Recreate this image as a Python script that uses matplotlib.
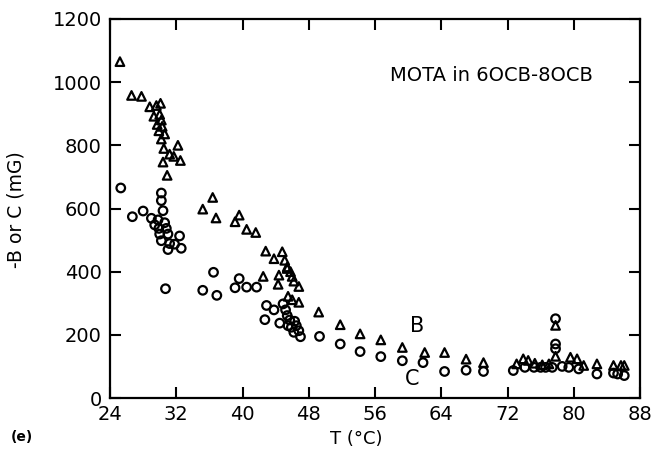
import matplotlib
matplotlib.use("Agg")
import matplotlib.pyplot as plt
import numpy as np

# -B (triangles)
b_temp = [25.2, 26.6, 27.8, 28.8, 29.6, 30.1, 29.3, 30.0, 30.2, 29.7, 30.3, 29.9,
          30.6, 30.2, 30.5, 32.2, 31.2, 31.7, 30.4, 32.5, 30.9, 35.2, 36.4, 36.8,
          39.6, 39.1, 40.5, 41.6, 42.8, 43.8, 44.8, 45.1, 45.4, 42.5, 44.4, 44.3,
          45.4, 45.8, 46.0, 46.2, 46.8, 45.5, 46.0, 46.8, 49.2, 51.8, 54.2, 56.7,
          59.3, 62.0, 64.4, 67.0, 69.1, 73.1, 73.9, 74.5, 75.3, 76.2, 77.0,
          77.8, 77.8, 79.6, 80.4, 81.2, 82.8, 84.8, 85.7, 86.1]
b_val = [1065, 958, 955, 922, 926, 933, 892, 898, 880, 866, 860, 846,
         836, 820, 790, 800, 772, 765, 747, 752, 705, 598, 635, 570,
         579, 558, 534, 524, 465, 441, 463, 436, 415, 385, 389, 360,
         410, 400, 385, 370, 353, 322, 311, 303, 272, 232, 203, 184,
         160, 144, 144, 123, 112, 108, 124, 119, 110, 105, 108,
         230, 132, 129, 124, 103, 108, 103, 103, 103]

# C (circles)
c_temp = [25.3, 26.7, 28.0, 29.0, 30.2, 30.2, 30.4, 29.8, 29.4, 30.6, 29.9, 30.8,
          30.0, 31.0, 30.2, 31.2, 31.8, 32.4, 32.6, 31.0, 30.7, 35.2, 36.5, 36.9,
          39.6, 39.1, 40.5, 41.7, 42.9, 43.8, 44.9, 45.2, 45.4, 42.7, 44.5, 45.7,
          46.3, 45.9, 46.5, 46.8, 47.0, 45.5, 46.2, 49.3, 51.8, 54.2, 56.7, 59.3,
          61.8, 64.4, 67.0, 69.1, 72.7, 74.1, 75.2, 76.0, 76.6, 77.4, 77.8, 77.8,
          77.8, 78.6, 79.4, 80.6, 82.8, 84.8, 85.3, 86.1]
c_val = [665, 574, 592, 569, 649, 625, 593, 564, 548, 555, 537, 537,
         519, 519, 498, 489, 487, 513, 474, 470, 346, 341, 398, 325,
         378, 349, 351, 351, 293, 279, 298, 279, 261, 248, 237, 247,
         243, 224, 229, 213, 194, 229, 208, 195, 171, 147, 131, 118,
         112, 84, 88, 84, 87, 97, 97, 97, 97, 97, 251, 171,
         156, 100, 97, 92, 76, 79, 76, 71]

xticks = [24, 32, 40, 48, 56, 64, 72, 80, 88]
yticks = [0, 200, 400, 600, 800, 1000, 1200]

plt.rcParams['font.family'] = ['DejaVu Sans']

fig = plt.figure(figsize=(6.53, 4.55), dpi=100)
ax = fig.add_axes([110 / 653, 1 - 398 / 455, 530 / 653, 379 / 455])

ax.scatter(b_temp, b_val, marker='^', s=38, facecolors='none',
           edgecolors='black', linewidths=1.6, zorder=3)
ax.scatter(c_temp, c_val, marker='o', s=38, facecolors='none',
           edgecolors='black', linewidths=1.6, zorder=3)

ax.set_xlim(24, 88)
ax.set_ylim(0, 1200)
ax.set_xticks(xticks)
ax.set_yticks(yticks)
ax.tick_params(direction='in', length=8, width=1.5, top=True, right=True,
               labelsize=14)
ax.tick_params(axis='y', pad=6)
ax.tick_params(axis='x', pad=5)
for sp in ax.spines.values():
    sp.set_linewidth(1.6)

ax.set_xlabel("T (°C)", fontsize=13)
ax.xaxis.set_label_coords((356 - 110) / 530, -0.084)
ax.set_ylabel("-B or C (mG)", fontsize=13.5)
ax.yaxis.set_label_coords((26 - 110) / 530, 0.496)

ax.text(0.528, 0.852, "MOTA in 6OCB-8OCB", transform=ax.transAxes,
        fontsize=14, va='center')
ax.text(61.1, 229, "B", fontsize=15, ha='center', va='center')
ax.text(60.5, 60, "C", fontsize=15, ha='center', va='center')
fig.text(22 / 653, 1 - 437 / 455, "(e)", fontsize=10, fontweight='bold',
         ha='center', va='center')

fig.savefig("out.png", dpi=100)
